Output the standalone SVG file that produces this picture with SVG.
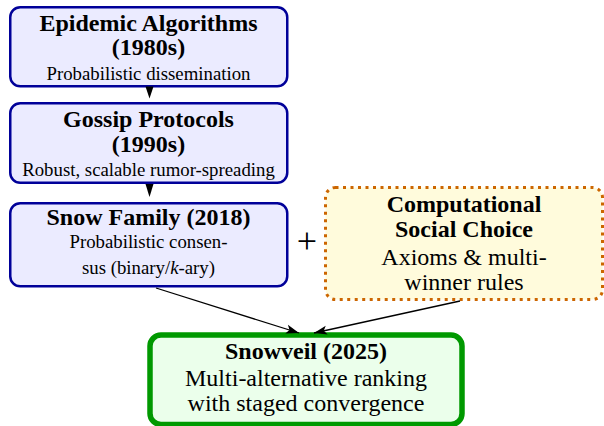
<svg xmlns="http://www.w3.org/2000/svg" width="604" height="426" viewBox="0 0 604 426">
<defs>
<marker id="ah" markerUnits="userSpaceOnUse" markerWidth="14" markerHeight="10" refX="13" refY="5" orient="auto">
<path d="M0,0.5 L13,5 L0,9.5 L3,5 z" fill="#000"/>
</marker>
</defs>
<style>
.blue{fill:#ebebff;stroke:#000099;stroke-width:2.5}
.cl{stroke:#000;stroke-width:1.3;fill:none}
</style>
<rect width="604" height="426" fill="#fff"/>
<g id="epidemic">
<rect class="blue" x="10.25" y="7.25" width="277" height="79" rx="10"/>
<text font-family="Liberation Serif" font-weight="bold" font-size="24" text-anchor="middle" x="148.5" y="31">Epidemic Algorithms</text>
<text font-family="Liberation Serif" font-weight="bold" font-size="24" text-anchor="middle" x="148.5" y="55">(1980s)</text>
<text font-family="Liberation Serif" font-size="18.8" text-anchor="middle" x="148.5" y="80">Probabilistic dissemination</text>
</g>
<g id="gossip">
<rect class="blue" x="10.25" y="103.25" width="277" height="79.5" rx="10"/>
<text font-family="Liberation Serif" font-weight="bold" font-size="24" text-anchor="middle" x="148.5" y="127">Gossip Protocols</text>
<text font-family="Liberation Serif" font-weight="bold" font-size="24" text-anchor="middle" x="148.5" y="152">(1990s)</text>
<text font-family="Liberation Serif" font-size="18.8" text-anchor="middle" x="148.5" y="176">Robust, scalable rumor-spreading</text>
</g>
<g id="snow">
<rect class="blue" x="10.25" y="203.25" width="277" height="83" rx="10"/>
<text font-family="Liberation Serif" font-weight="bold" font-size="24" text-anchor="middle" x="148.5" y="225">Snow Family (2018)</text>
<text font-family="Liberation Serif" font-size="18.8" text-anchor="middle" x="148.5" y="248">Probabilistic consen-</text>
<text font-family="Liberation Serif" font-size="18.8" text-anchor="middle" x="148.5" y="274">sus (binary/<tspan font-style="italic">k</tspan>-ary)</text>
</g>
<g id="plus">
<text font-family="Liberation Serif" font-size="36" text-anchor="middle" x="307" y="253">+</text>
</g>
<g id="csc">
<rect x="325.5" y="187.5" width="277" height="112" rx="10" fill="#fffbdc" stroke="#cc6600" stroke-width="3" stroke-dasharray="3 4.5"/>
<text font-family="Liberation Serif" font-weight="bold" font-size="24" text-anchor="middle" x="464" y="212">Computational</text>
<text font-family="Liberation Serif" font-weight="bold" font-size="24" text-anchor="middle" x="464" y="237">Social Choice</text>
<text font-family="Liberation Serif" font-size="24" text-anchor="middle" x="464" y="265">Axioms &amp; multi-</text>
<text font-family="Liberation Serif" font-size="24" text-anchor="middle" x="464" y="290">winner rules</text>
</g>
<g id="snowveil">
<rect x="150" y="335" width="312" height="89.5" rx="11" fill="#ebffeb" stroke="#009900" stroke-width="5.5"/>
<text font-family="Liberation Serif" font-weight="bold" font-size="24" text-anchor="middle" x="306" y="359">Snowveil (2025)</text>
<text font-family="Liberation Serif" font-size="24" text-anchor="middle" x="306" y="386">Multi-alternative ranking</text>
<text font-family="Liberation Serif" font-size="24" text-anchor="middle" x="306" y="411">with staged convergence</text>
</g>
<g id="connectors">
<polygon points="145.5,86.5 153.5,86.5 149.5,98.5" fill="#000"/>
<polygon points="145.5,184 153.5,184 149.5,197" fill="#000"/>
<line class="cl" x1="156" y1="288" x2="299" y2="333" marker-end="url(#ah)"/>
<line class="cl" x1="460" y1="301" x2="314" y2="333" marker-end="url(#ah)"/>
</g>
</svg>
